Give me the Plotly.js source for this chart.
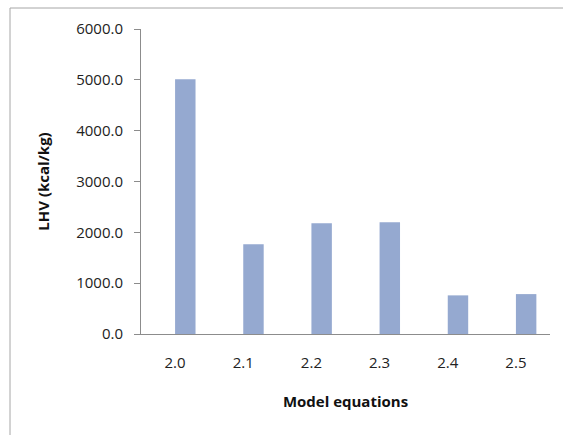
<!DOCTYPE html>
<html><head><meta charset="utf-8">
<script src="https://cdn.plot.ly/plotly-3.0.1.min.js"></script>
<style>html,body{margin:0;padding:0;background:#fff}#c{width:563px;height:435px}</style>
</head><body><div id="c"></div>
<script>
const categories = ["2.0","2.1","2.2","2.3","2.4","2.5"];
const lhvValues = [5010, 1765, 2180, 2200, 760, 785];
const yTicks = [0,1000,2000,3000,4000,5000,6000];
const yTickLabels = ["0.0","1000.0","2000.0","3000.0","4000.0","5000.0","6000.0"];

const trace = {
  type: "bar", x: categories, y: lhvValues,
  width: 0.3, offset: 0,
  marker: {color: "#95a9d0", line: {width: 0}},
  hoverinfo: "skip"
};
const layout = {
  width: 563, height: 435,
  margin: {l: 141, r: 13, t: 29, b: 101},
  paper_bgcolor: "#fff", plot_bgcolor: "#fff",
  showlegend: false,
  font: {family: "Open Sans, Liberation Sans, sans-serif", size: 15, color: "#222"},
  xaxis: {
    type: "category", showgrid: false, zeroline: false,
    showline: true, linecolor: "#8c8c8c", linewidth: 1,
    ticks: "", ticklabelstandoff: 15,
    tickfont: {size: 15, color: "#222"},
    title: {text: "<b>Model equations</b>", font: {size: 15, color: "#111"}, standoff: 25}
  },
  yaxis: {
    range: [0, 6000], tickvals: yTicks, ticktext: yTickLabels,
    showgrid: false, zeroline: false, showline: true, linecolor: "#8c8c8c", linewidth: 1,
    ticks: "outside", ticklen: 6, tickcolor: "#8c8c8c",
    ticklabelstandoff: 8,
    tickfont: {size: 15, color: "#222"},
    title: {text: "<b>LHV (kcal/kg)</b>", font: {size: 15, color: "#111"}, standoff: 22}
  },
  shapes: [{
    type: "rect", xref: "paper", yref: "paper",
    x0: -131/409, x1: 1.1, y0: -0.5, y1: 1 + 21/305,
    line: {color: "#a6a6a6", width: 1}, fillcolor: "rgba(0,0,0,0)", layer: "below"
  }]
};
Plotly.newPlot("c", [trace], layout, {displayModeBar: false, staticPlot: true});
</script></body></html>
